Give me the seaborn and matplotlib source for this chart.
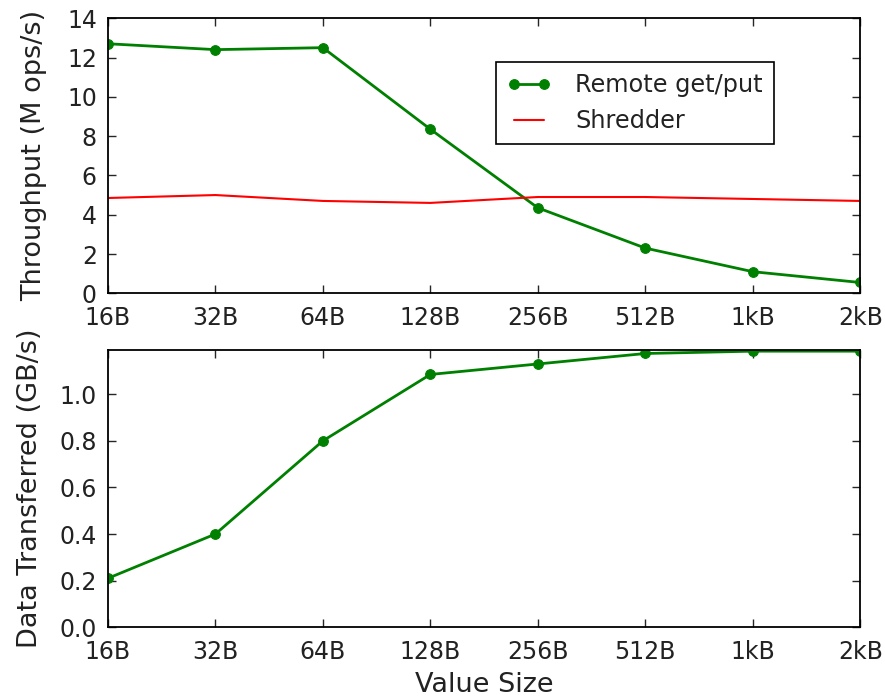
import numpy as np
import pandas as pd
import matplotlib
matplotlib.use("Agg")
import matplotlib.pyplot as plt
import seaborn as sns

# Data
sizes = ["16B", "32B", "64B", "128B", "256B", "512B", "1kB", "2kB"]
remote_tput = [12.7, 12.4, 12.5, 8.35, 4.35, 2.3, 1.1, 0.55]
shredder_tput = [4.85, 5.0, 4.7, 4.6, 4.9, 4.9, 4.8, 4.7]
data_gbps = [0.21, 0.40, 0.80, 1.085, 1.13, 1.175, 1.185, 1.185]

sns.set_style("ticks", {"xtick.direction": "in", "ytick.direction": "in"})
plt.rcParams['font.family'] = ['DejaVu Sans']
plt.rcParams['text.color'] = '#222222'
plt.rcParams['axes.labelcolor'] = '#222222'
plt.rcParams['xtick.labelcolor'] = '#222222'
plt.rcParams['ytick.labelcolor'] = '#222222'

pos = np.arange(len(sizes))
df = pd.DataFrame({"pos": pos, "remote": remote_tput,
                   "shredder": shredder_tput, "data": data_gbps})

fig = plt.figure(figsize=(8.85, 7), dpi=100)
ax1 = fig.add_axes([0.122, 0.581, 0.850, 0.393])
ax2 = fig.add_axes([0.122, 0.104, 0.850, 0.396])

green = (0, 0.5, 0)
red = (1, 0, 0)

# Top: throughput
sns.lineplot(data=df, x="pos", y="remote", ax=ax1, color=green, marker="o",
             markersize=7, markeredgecolor=green, linewidth=2, label="Remote get/put")
sns.lineplot(data=df, x="pos", y="shredder", ax=ax1, color=red,
             linewidth=1.5, label="Shredder")
ax1.set_xlim(0, len(sizes) - 1)
ax1.set_ylim(0, 14)
ax1.set_yticks(np.arange(0, 15, 2))
ax1.set_xticks(pos)
ax1.set_xticklabels(sizes)
ax1.set_xlabel("")
ax1.set_ylabel("Throughput (M ops/s)", labelpad=14)
leg = ax1.legend(loc="upper left", bbox_to_anchor=(0.516, 0.84), numpoints=2,
                 frameon=True, fancybox=False, handlelength=1.85, handletextpad=1.0,
                 fontsize=17.3, borderpad=0.45, labelspacing=0.5, borderaxespad=0)
leg.get_frame().set_edgecolor("black")
leg.get_frame().set_linewidth(1.2)
leg.get_frame().set_alpha(1)

# Bottom: data transferred
sns.lineplot(data=df, x="pos", y="data", ax=ax2, color=green, marker="o",
             markersize=7, markeredgecolor=green, linewidth=2)
ax2.set_xlim(0, len(sizes) - 1)
ax2.set_ylim(0, 1.19)
ax2.set_yticks(np.arange(0, 1.01, 0.2))
ax2.set_yticklabels([f"{v:.1f}" for v in np.arange(0, 1.01, 0.2)])
ax2.set_xticks(pos)
ax2.set_xticklabels(sizes)
ax2.set_xlabel("Value Size", labelpad=6)
ax2.set_ylabel("Data Transferred (GB/s)", labelpad=12)

for ax in (ax1, ax2):
    ax.tick_params(top=True, right=True, labelsize=17, length=6, width=1)
    ax.tick_params(axis="x", pad=9)
    ax.tick_params(axis="y", pad=8)
    ax.xaxis.label.set_size(19.5)
    ax.yaxis.label.set_size(19.5)
    for s in ax.spines.values():
        s.set_linewidth(1.3)
        s.set_color("black")

fig.savefig("out.png", dpi=100)
